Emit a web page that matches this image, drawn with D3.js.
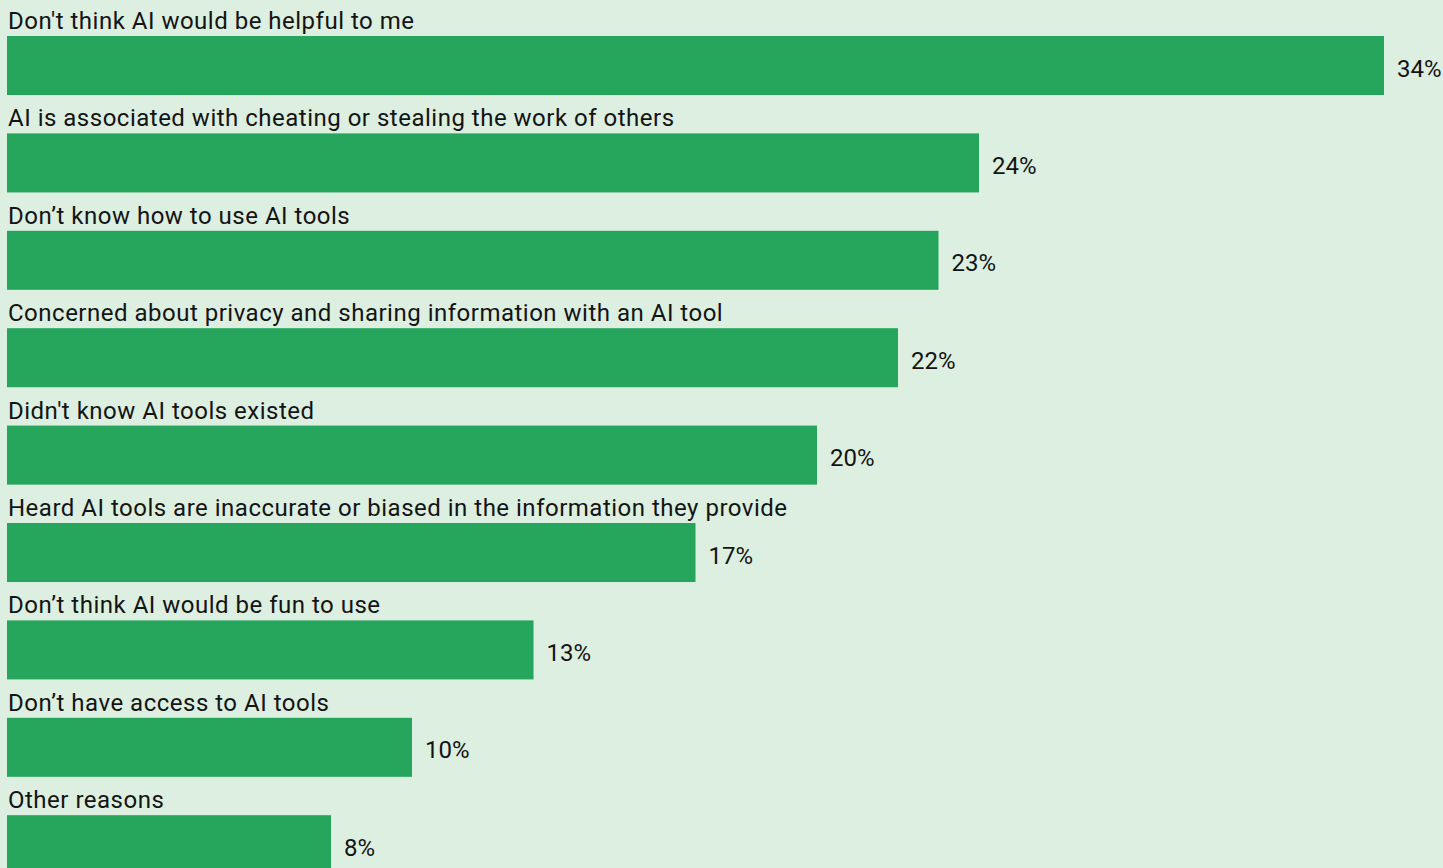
<!DOCTYPE html>
<html>
<head>
<meta charset="utf-8">
<script src="https://cdn.jsdelivr.net/npm/d3@7"></script>
<style>
  html, body { margin: 0; padding: 0; background: #dcefe1; }
  svg { display: block; }
  text { font-family: Roboto, "Noto Sans", sans-serif; fill: #141414; }
</style>
</head>
<body>
<svg id="chart" width="1443" height="868"></svg>
<script>
// Reasons for not using AI tools (share of respondents, %)
const categories = [
  "Don't think AI would be helpful to me",
  "AI is associated with cheating or stealing the work of others",
  "Don\u2019t know how to use AI tools",
  "Concerned about privacy and sharing information with an AI tool",
  "Didn't know AI tools existed",
  "Heard AI tools are inaccurate or biased in the information they provide",
  "Don\u2019t think AI would be fun to use",
  "Don\u2019t have access to AI tools",
  "Other reasons"
];
const values = [34, 24, 23, 22, 20, 17, 13, 10, 8];

const marginLeft = 7;
const rowStep = 97.4, innerPad = 0.394, firstBarTop = 36;
const fontSize = 24;

const svg = d3.select("#chart");

const x = d3.scaleLinear().domain([0, 34]).range([marginLeft, 1384]);
const y = d3.scaleBand()
  .domain(categories)
  .range([firstBarTop, firstBarTop + rowStep * (categories.length - innerPad)])
  .paddingInner(innerPad)
  .paddingOuter(0);

const rows = svg.selectAll("g.row")
  .data(categories.map((c, i) => ({ c, v: values[i] })))
  .join("g")
  .attr("class", "row");

rows.append("rect")
  .attr("x", x(0))
  .attr("y", d => y(d.c))
  .attr("width", d => x(d.v) - x(0))
  .attr("height", y.bandwidth())
  .attr("fill", "#26a55c");

// category label sits just above its bar
rows.append("text")
  .attr("x", 8)
  .attr("y", d => y(d.c) - 7)
  .attr("font-size", fontSize)
  .attr("letter-spacing", 0.5)
  .text(d => d.c);

// value label to the right of the bar end
rows.append("text")
  .attr("x", d => x(d.v) + 13)
  .attr("y", d => y(d.c) + y.bandwidth() / 2 + 11)
  .attr("font-size", fontSize)
  .attr("letter-spacing", 0)
  .text(d => d.v + "%");
</script>
</body>
</html>
